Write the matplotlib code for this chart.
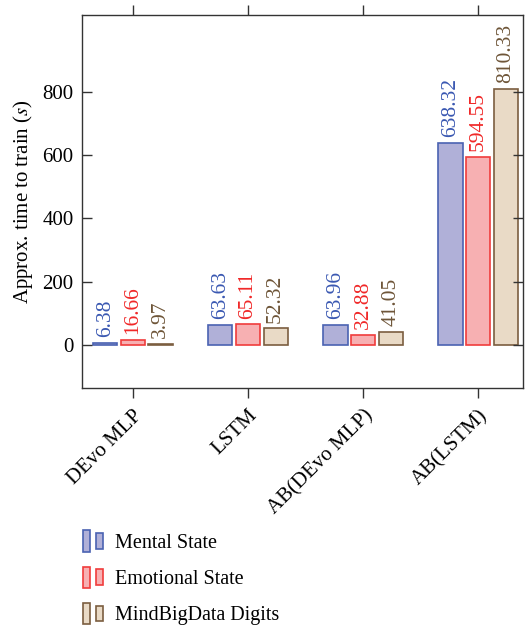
import numpy as np
import matplotlib.pyplot as plt
from matplotlib.patches import Rectangle
from matplotlib.legend_handler import HandlerBase

plt.rcParams['font.family'] = ['Liberation Serif', 'DejaVu Serif']
plt.rcParams['mathtext.fontset'] = 'stix'

# ── Data ──────────────────────────────────────────
MODELS   = ['DEvo MLP', 'LSTM', 'AB(DEvo MLP)', 'AB(LSTM)']
SERIES   = ['Mental State', 'Emotional State', 'MindBigData Digits']
MENTAL    = [6.38, 63.63, 63.96, 638.32]
EMOTIONAL = [16.66, 65.11, 32.88, 594.55]
DIGITS    = [3.97, 52.32, 41.05, 810.33]
YTICKS   = [0, 200, 400, 600, 800]

FACES  = ['#b0b0d8', '#f7b0b2', '#e9dac6']
EDGES  = ['#4a62b2', '#f03c3c', '#7b5e40']
TEXTC  = ['#3a58b2', '#f02828', '#6e5538']


class TwoBoxHandler(HandlerBase):
    # legend key: a tall box followed by a smaller one
    def create_artists(self, legend, orig_handle, xdescent, ydescent,
                       width, height, fontsize, trans):
        fc = orig_handle.get_facecolor()
        ec = orig_handle.get_edgecolor()
        h1 = height * 1.5
        h2 = height * 1.1
        r1 = Rectangle((-xdescent, -ydescent + height / 2 - h1 / 2),
                       width * 0.36, h1, facecolor=fc, edgecolor=ec,
                       lw=1.2, transform=trans)
        r2 = Rectangle((-xdescent + width * 0.62, -ydescent + height / 2 - h2 / 2),
                       width * 0.36, h2, facecolor=fc, edgecolor=ec,
                       lw=1.2, transform=trans)
        return [r1, r2]


fig = plt.figure(figsize=(5.28, 6.29), dpi=100)
ax = fig.add_axes([0.1553, 0.3831, 0.8352, 0.5931])

x = np.arange(len(MODELS))
width = 0.21
step = 0.24
handles = []
for i, vals in enumerate([MENTAL, EMOTIONAL, DIGITS]):
    bars = ax.bar(x + (i - 1) * step, vals, width, color=FACES[i],
                  edgecolor=EDGES[i], linewidth=1.2, label=SERIES[i])
    handles.append(bars[0])
    for b, v in zip(bars, vals):
        ax.annotate(f'{v:.2f}', (b.get_x() + b.get_width() / 2, v),
                    xytext=(0, 4), textcoords='offset points',
                    ha='center', va='bottom', rotation=90,
                    color=TEXTC[i], fontsize=15.5)

ax.set_xlim(-0.443, 3.39)
ax.set_ylim(-136, 1043)
ax.set_yticks(YTICKS)
ax.set_xticks(x)
ax.set_xticklabels(MODELS, rotation=45, ha='right', rotation_mode='anchor')
ax.set_ylabel('Approx. time to train ($\\mathit{s}$)', fontsize=15, labelpad=5)

for sp in ax.spines.values():
    sp.set_color('#333333')
    sp.set_linewidth(1.0)
ax.tick_params(axis='both', labelsize=15, color='#333333', width=1.0, length=7)
ax.tick_params(axis='x', direction='out', top=True, pad=6)
ax.tick_params(axis='y', direction='in', right=True, pad=6)
for t in ax.yaxis.get_ticklines()[1::2]:
    t.set_marker(0)  # right ticks pointing outward

leg = fig.legend(handles, SERIES, handler_map={h: TwoBoxHandler() for h in handles},
                 loc='upper left', bbox_to_anchor=(0.122, 0.18), frameon=False,
                 fontsize=14.5, handlelength=1.05, handletextpad=0.55,
                 labelspacing=0.85)

fig.savefig('out.png', dpi=100)
